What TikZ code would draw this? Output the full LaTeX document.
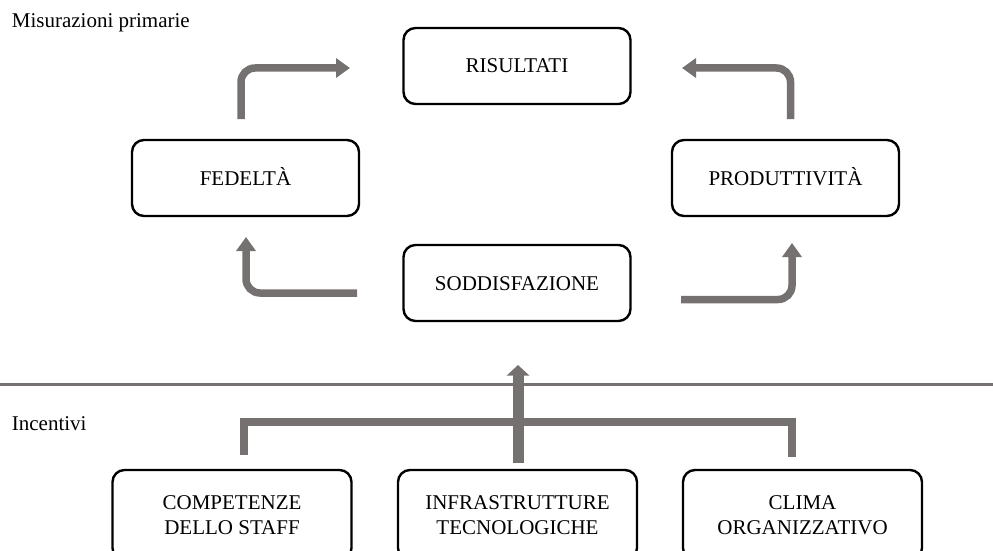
\documentclass[tikz,border=0pt]{standalone}
\usepackage{fontspec}
\setmainfont{Liberation Serif}
\usetikzlibrary{arrows.meta}
\definecolor{arrowgray}{HTML}{767171}
\begin{document}
\begin{tikzpicture}[x=1pt,y=-1pt,
  box/.style={draw=black, line width=2.4pt, rounded corners=12pt, align=center,
    inner sep=0pt, font=\fontsize{21}{25}\selectfont},
  topbox/.style={box, minimum width=227pt, minimum height=76pt, text height=14pt, text depth=0pt},
  lowbox/.style={box, minimum width=239pt, minimum height=90pt},
  flow/.style={draw=arrowgray, line width=7.5pt, rounded corners=14pt,
    -{Triangle[length=14pt,width=19pt]}},
  label/.style={anchor=base west, inner sep=0pt, font=\fontsize{21}{25}\selectfont}]

\path[use as bounding box] (0,0) rectangle (993,551);
\clip (0,0) rectangle (993,551);

% section labels
\node[label] (lmis) at (11.7,28) {Misurazioni primarie};
\node[label] (linc) at (11.7,430.7) {Incentivi};

% primary measures
\node[topbox] (ris) at (517,66) {RISULTATI};
\node[topbox] (fed) at (245.5,178) {FEDELTÀ};
\node[topbox] (pro) at (785.5,178) {PRODUTTIVITÀ};
\node[topbox] (sod) at (517,283) {SODDISFAZIONE};

% incentives
\node[lowbox] (com) at (232,515) {COMPETENZE\\DELLO STAFF};
\node[lowbox] (inf) at (517.5,515) {INFRASTRUTTURE\\TECNOLOGICHE};
\node[lowbox] (cli) at (802.5,515) {CLIMA\\ORGANIZZATIVO};

% separator between the two levels
\coordinate (sepL) at (0,384);
\coordinate (sepR) at (993,384);
\draw[arrowgray, line width=3pt] (sepL) -- (sepR);

% cycle arrows
\coordinate (a1s) at (241,119);   \coordinate (a1e) at (350,68);
\coordinate (a2s) at (790.5,119); \coordinate (a2e) at (682,68);
\coordinate (a3s) at (357,293);   \coordinate (a3e) at (246,237);
\coordinate (a4s) at (681,299.5); \coordinate (a4e) at (792,243);
\draw[flow] (a1s) |- (a1e);
\draw[flow] (a2s) |- (a2e);
\draw[flow] (a3s) -| (a3e);
\draw[flow] (a4s) -| (a4e);

% bracket gathering the incentives
\coordinate (bL) at (244,455);
\coordinate (bR) at (792,457);
\draw[arrowgray, line width=8pt, line join=miter] (bL) |- (792,422) -- (bR);

% upward arrow towards satisfaction
\coordinate (cs) at (518,463);
\coordinate (ce) at (518,365);
\draw[arrowgray, line width=11pt, -{Triangle[length=10.5pt,width=22pt]}] (cs) -- (ce);

\end{tikzpicture}
\end{document}
